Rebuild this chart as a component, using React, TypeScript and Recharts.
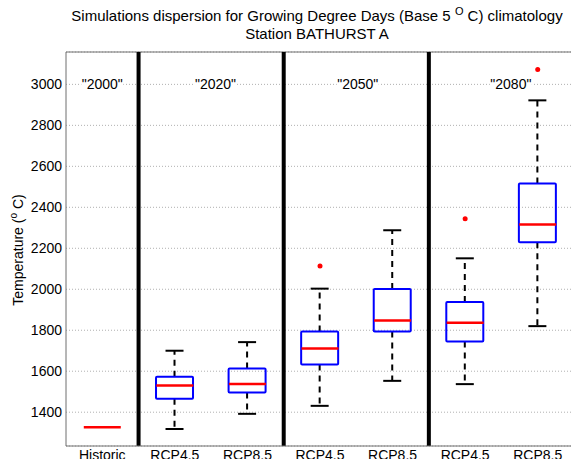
import React from 'react'
import { ComposedChart, Bar, Scatter, XAxis, YAxis, CartesianGrid, ReferenceLine } from 'recharts'

// categories along the x axis
const categories = ['Historic', 'RCP4.5', 'RCP8.5', 'RCP4.5', 'RCP8.5', 'RCP4.5', 'RCP8.5']
const positions = [1, 2, 3, 4, 5, 6, 7]

// box statistics (GDD)
const whiskerLow = [null, 1318, 1392, 1431, 1553, 1537, 1820]
const quart1 = [null, 1466, 1496, 1633, 1794, 1745, 2229]
const medians = [1326, 1530, 1537, 1711, 1848, 1837, 2316]
const quart3 = [null, 1573, 1613, 1794, 2001, 1938, 2516]
const whiskerHigh = [null, 1700, 1742, 2003, 2288, 2151, 2922]

// outliers
const outlierPos = [4, 6, 7]
const outlierVal = [2114, 2344, 3072]

// period labels
const periods = ['"2000"', '"2020"', '"2050"', '"2080"']
const periodPos = [1, 2.56, 4.52, 6.63]
const periodVal = [3000, 3000, 3000, 3000]

const separators = [1.5, 3.5, 5.5]
const yTicks = [1400, 1600, 1800, 2000, 2200, 2400, 2600, 2800, 3000]
const Y_MIN = 1235
const Y_MAX = 3158

const BOX_W = 37
const FONT = '"Liberation Sans", Arial, sans-serif'

const boxData = positions.map((pos, i) => ({
	pos,
	lo: whiskerLow[i],
	q1: quart1[i],
	med: medians[i],
	q3: quart3[i],
	hi: whiskerHigh[i],
	range: whiskerLow[i] == null ? [medians[i], medians[i]] : [whiskerLow[i], whiskerHigh[i]],
}))

const medianData = positions.map((pos, i) => ({ pos, v: medians[i] }))
const outlierData = outlierPos.map((pos, i) => ({ pos, v: outlierVal[i] }))
const periodData = periods.map((label, i) => ({ pos: periodPos[i], v: periodVal[i], label }))

const BoxShape = (props: any) => {
	const { x, y, width, height, payload } = props
	if (payload.lo == null) return <g />
	const top = Math.min(y, y + height)
	const bottom = Math.max(y, y + height)
	const k = (bottom - top) / (payload.hi - payload.lo)
	const py = (v: number) => top + (payload.hi - v) * k
	const cx = x + width / 2
	const y1 = py(payload.q1)
	const y3 = py(payload.q3)
	return (
		<g>
			<line x1={cx} x2={cx} y1={y3} y2={top} stroke="#000" strokeWidth={2} strokeDasharray="6 5" />
			<line x1={cx} x2={cx} y1={y1} y2={bottom} stroke="#000" strokeWidth={2} strokeDasharray="6 5" />
			<line x1={cx - 9} x2={cx + 9} y1={top} y2={top} stroke="#000" strokeWidth={2} />
			<line x1={cx - 9} x2={cx + 9} y1={bottom} y2={bottom} stroke="#000" strokeWidth={2} />
			<rect x={cx - BOX_W / 2} y={y3} width={BOX_W} height={y1 - y3} fill="none" stroke="#0000ff" strokeWidth={2} rx={1} />
		</g>
	)
}

const MedianShape = (props: any) => {
	const { cx, cy } = props
	return <line x1={cx - BOX_W / 2} x2={cx + BOX_W / 2} y1={cy} y2={cy} stroke="#ff0000" strokeWidth={2.5} />
}

const OutlierShape = (props: any) => {
	const { cx, cy } = props
	return <circle cx={cx} cy={cy} r={2.5} fill="#ff0000" />
}

const PeriodShape = (props: any) => {
	const { cx, cy, payload } = props
	return (
		<g>
			<rect x={cx - 21} y={cy - 9} width={42} height={18} fill="#fff" />
			<text x={cx} y={cy} textAnchor="middle" dominantBaseline="central" fontSize={14} fontFamily={FONT} fill="#000">
				{payload.label}
			</text>
		</g>
	)
}

const App: React.FC = () => {
	return (
		<div style={{ position: 'fixed', left: 0, top: 0, width: 571, height: 459, overflow: 'hidden', background: '#fff' }}>
			<ComposedChart width={600} height={459} data={boxData} margin={{ top: 52, right: 26, left: 0, bottom: 0 }}>
				<CartesianGrid vertical={false} stroke="#b0b0b0" strokeDasharray="1 2" />
				<XAxis
					dataKey="pos"
					type="number"
					domain={[0.5, 7.5]}
					ticks={positions}
					tickFormatter={(v: number) => categories[v - 1]}
					height={13}
					tickSize={0}
					tickMargin={4}
					axisLine={{ stroke: '#6e6e6e' }}
					tick={{ fontSize: 14, fontFamily: FONT, fill: '#000' }}
					allowDataOverflow
				/>
				<YAxis
					type="number"
					domain={[Y_MIN, Y_MAX]}
					ticks={yTicks}
					width={66}
					tickSize={0}
					tickMargin={4}
					axisLine={{ stroke: '#6e6e6e' }}
					tick={{ fontSize: 14, fontFamily: FONT, fill: '#000' }}
					allowDataOverflow
				/>
				<ReferenceLine y={Y_MAX} stroke="#6e6e6e" />
				{separators.map((s) => (
					<ReferenceLine key={s} x={s} stroke="#000" strokeWidth={4} />
				))}
				<Bar dataKey="range" barSize={BOX_W} shape={BoxShape} isAnimationActive={false} />
				<Scatter data={medianData} dataKey="v" shape={MedianShape} isAnimationActive={false} />
				<Scatter data={outlierData} dataKey="v" shape={OutlierShape} isAnimationActive={false} />
				<Scatter data={periodData} dataKey="v" shape={PeriodShape} isAnimationActive={false} />
			</ComposedChart>
			<svg width={571} height={459} style={{ position: 'absolute', left: 0, top: 0, pointerEvents: 'none' }}>
				<text x={317} y={21} textAnchor="middle" fontSize={15} fontFamily={FONT} fill="#000">
					Simulations dispersion for Growing Degree Days (Base 5{' '}
					<tspan fontSize={11} dy={-6}>O</tspan>
					<tspan dy={6}> C) climatology</tspan>
				</text>
				<text x={317} y={39} textAnchor="middle" fontSize={15} fontFamily={FONT} fill="#000">
					Station BATHURST A
				</text>
				<text transform="translate(23,250) rotate(-90)" textAnchor="middle" fontSize={14} fontFamily={FONT} fill="#000">
					Temperature (<tspan fontSize={10} dy={-6}>o</tspan>
					<tspan dy={6}> C)</tspan>
				</text>
			</svg>
		</div>
	)
}

export default App
